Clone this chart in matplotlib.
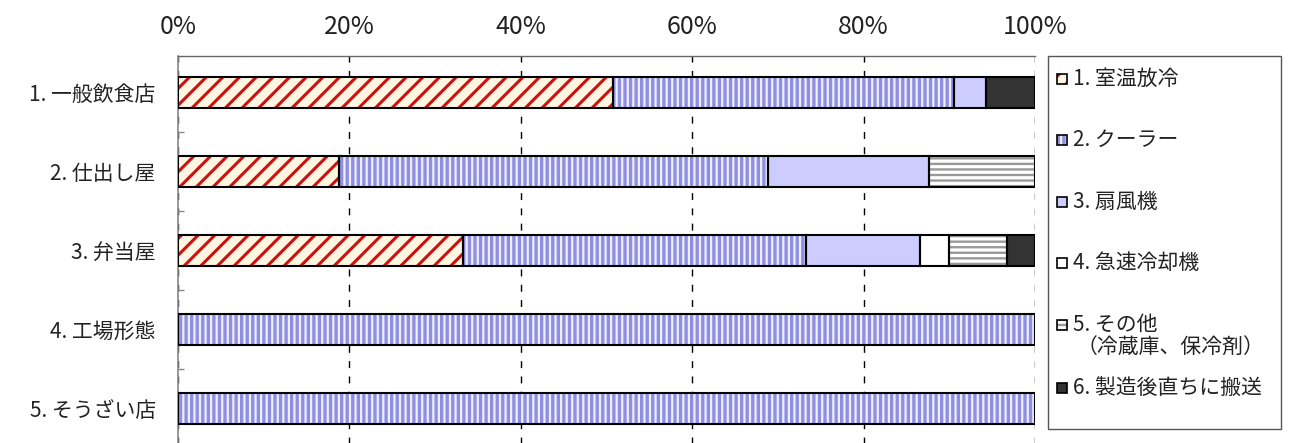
import matplotlib
matplotlib.use("Agg")
import matplotlib.pyplot as plt
from matplotlib.patches import Rectangle
from matplotlib.ticker import FixedLocator
import numpy as np

plt.rcParams['font.family'] = ['Noto Sans CJK JP', 'DejaVu Sans']

# Business types (rows, top to bottom)
categories = ["1. 一般飲食店", "2. 仕出し屋", "3. 弁当屋", "4. 工場形態", "5. そうざい店"]

# Share of each cooling method per business type (%)
room_temp = [50.8, 18.8, 33.3, 0, 0]
cooler = [39.7, 50.0, 40.0, 100, 100]
fan = [3.8, 18.8, 13.3, 0, 0]
blast_chiller = [0, 0, 3.4, 0, 0]
other = [0, 12.4, 6.7, 0, 0]
direct = [5.7, 0, 3.3, 0, 0]

series_labels = ["1. 室温放冷", "2. クーラー", "3. 扇風機", "4. 急速冷却機",
                 "5. その他\n（冷蔵庫、保冷剤）", "6. 製造後直ちに搬送"]
x_ticks = [0, 20, 40, 60, 80, 100]
x_tick_labels = ["0%", "20%", "40%", "60%", "80%", "100%"]

series = [room_temp, cooler, fan, blast_chiller, other, direct]
# (face colour, hatch, hatch colour, hatch line width)
styles = [
    ("#fff6e2", "//", "#cc1111", 2.2),
    ("#eeeeff", "|||", "#8f8fe2", 2.4),
    ("#ccccff", "", "#ccccff", 1.0),
    ("#ffffff", "", "#ffffff", 1.0),
    ("#ffffff", "---", "#999999", 1.7),
    ("#333333", "", "#333333", 1.0),
]

W, H, DPI = 13.0, 4.43, 100
fig = plt.figure(figsize=(W, H), dpi=DPI)

def fx(px):
    return px / (W * DPI)

def fy(py):
    return 1 - py / (H * DPI)

ax = fig.add_axes([fx(178), fy(448), fx(1035) - fx(178), fy(55.7) - fy(448)])

y = np.arange(len(categories))
bar_h = 0.39
left = np.zeros(len(categories))
text_color = "#222222"

for vals, (face, hatch, hcol, hlw) in zip(series, styles):
    vals = np.asarray(vals, dtype=float)
    mask = vals > 0
    with plt.rc_context({"hatch.linewidth": hlw}):
        fills = ax.barh(y[mask], vals[mask], left=left[mask], height=bar_h,
                        color=face, edgecolor=hcol, linewidth=0, hatch=hatch or None,
                        zorder=2)
        for p in fills:
            if hasattr(p, "set_hatch_linewidth"):
                p.set_hatch_linewidth(hlw)
    ax.barh(y[mask], vals[mask], left=left[mask], height=bar_h,
            fill=False, edgecolor="black", linewidth=1.5, zorder=3)
    left = left + vals

ax.set_xlim(0, 100)
ax.set_ylim(len(categories) - 0.5, -0.47)

ax.xaxis.tick_top()
ax.set_xticks(x_ticks)
ax.set_xticklabels(x_tick_labels, fontsize=18, color=text_color)
ax.tick_params(axis="x", length=0, pad=11)

ax.set_yticks(y)
ax.set_yticklabels(categories, fontsize=15, color=text_color)
ax.tick_params(axis="y", which="major", length=0, pad=16)
ax.yaxis.set_minor_locator(FixedLocator(np.arange(len(categories) - 1) + 0.5))
ax.tick_params(axis="y", which="minor", length=4, width=1, color="#888888", direction="in")

ax.set_axisbelow(True)
ax.grid(axis="x", color="black", linewidth=1.0, linestyle=(0, (5, 6)), zorder=1)

for side in ("right", "bottom"):
    ax.spines[side].set_visible(False)
ax.spines["left"].set_color("#888888")
ax.spines["left"].set_linewidth(1.2)
ax.spines["top"].set_color("#666666")
ax.spines["top"].set_linewidth(1.0)

# Legend panel
box_l, box_t, box_r, box_b = 1047.5, 56, 1281, 428.5
fig.add_artist(Rectangle((fx(box_l), fy(box_b)), fx(box_r) - fx(box_l), fy(box_t) - fy(box_b),
                         transform=fig.transFigure, fill=False, edgecolor="#555555",
                         linewidth=1.0))

entry_y = [79, 140, 202, 263, 325, 388]
sq = 10.5
for (face, hatch, hcol, hlw), label, ey in zip(styles, series_labels, entry_y):
    x0, y0 = 1056.5, ey + sq / 2
    with plt.rc_context({"hatch.linewidth": hlw}):
        hp = Rectangle((fx(x0), fy(y0)), fx(sq), fy(0) - fy(sq), transform=fig.transFigure,
                       facecolor=face, edgecolor=hcol, linewidth=0, hatch=hatch or None)
        if hasattr(hp, "set_hatch_linewidth"):
            hp.set_hatch_linewidth(hlw)
    fig.add_artist(hp)
    fig.add_artist(Rectangle((fx(x0), fy(y0)), fx(sq), fy(0) - fy(sq), transform=fig.transFigure,
                             fill=False, edgecolor="black", linewidth=1.2))
    lines = label.split("\n")
    fig.text(fx(1073), fy(ey), lines[0], fontsize=15, color=text_color,
             ha="left", va="center")
    if len(lines) > 1:
        fig.text(fx(1077), fy(ey + 22), lines[1], fontsize=15, color=text_color,
                 ha="left", va="center")

fig.savefig("out.png", dpi=DPI)
